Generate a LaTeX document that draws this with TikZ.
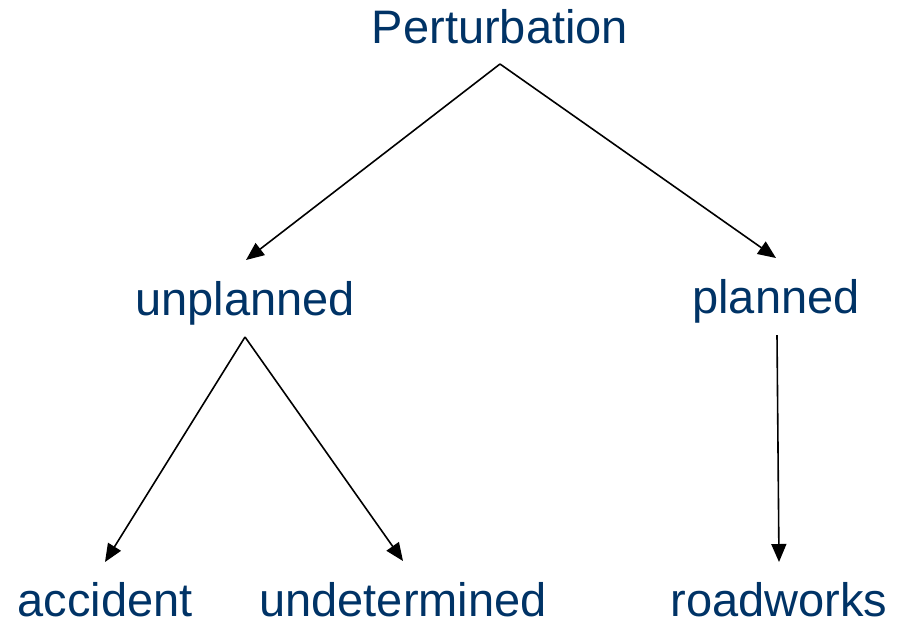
\documentclass[tikz,border=0pt]{standalone}
\usepackage{fontspec}
\setmainfont{Liberation Sans}
\usetikzlibrary{arrows.meta,calc}
\definecolor{txtblue}{RGB}{0,51,102}
\begin{document}
\begin{tikzpicture}[x=1pt,y=-1pt,
  lbl/.style={anchor=base,inner sep=0pt,text=txtblue,font=\fontsize{47}{47}\selectfont},
  arr/.style={-{Triangle[length=18pt,width=15pt]},line width=1.6pt,black}]
\useasboundingbox[fill=white] (0,0) rectangle (910,625);
\node[lbl] (P) at (500,43) {Perturbation};
\node[lbl] (U) at (245,315) {unplanned};
\node[lbl] (L) at (776,313) {planned};
\node[lbl] (A) at (105,616) {accident};
\node[lbl] (D) at (403,616) {undetermined};
\node[lbl] (R) at (779,616) {roadworks};
\draw[arr] ($(P.base)+(0,21)$) -- ($(U.base)+(1,-55)$);
\draw[arr] ($(P.base)+(0,21)$) -- ($(L.base)+(0,-55)$);
\draw[arr] ($(U.base)+(0,22)$) -- ($(A.base)+(0,-54)$);
\draw[arr] ($(U.base)+(0,22)$) -- ($(D.base)+(0,-55)$);
\draw[arr] ($(L.base)+(1,22)$) -- ($(R.base)+(0,-54)$);
\end{tikzpicture}
\end{document}
